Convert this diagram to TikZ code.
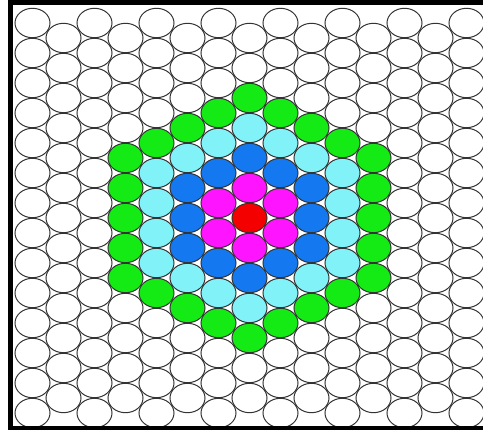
\documentclass[tikz,border=0pt]{standalone}
\definecolor{ringred}{RGB}{245,0,0}
\definecolor{ringmagenta}{RGB}{255,20,255}
\definecolor{ringblue}{RGB}{20,120,240}
\definecolor{ringcyan}{RGB}{128,242,248}
\definecolor{ringgreen}{RGB}{20,235,20}
\tikzset{
	cell/.style={draw=black!80, line width=1pt},
	ring0/.style={fill=ringred},
	ring1/.style={fill=ringmagenta},
	ring2/.style={fill=ringblue},
	ring3/.style={fill=ringcyan},
	ring4/.style={fill=ringgreen},
	ring5/.style={fill=white}
}
\begin{document}
\begin{tikzpicture}[x=1pt, y=-1pt]
		\useasboundingbox (0,0) rectangle (483,430);
		\clip (0,0) rectangle (483,430);
		
		% Hexagonal lattice of cells, coloured by ring around the centre
		\foreach \c in {-7,...,7} {
			\foreach \h in {-13,...,13} {
				\pgfmathtruncatemacro\odd{mod(abs(\c+\h),2)}
				\ifnum\odd=0
					\pgfmathtruncatemacro\dist{abs(\c)+max(0,(abs(\h)-abs(\c))/2)}
					\pgfmathtruncatemacro\ring{min(\dist,5)}
					\draw[cell, ring\ring] (249.5+31*\c, 218+15*\h) ellipse [x radius=17.5pt, y radius=14.7pt];
				\fi
			}
		}
		
		% Frame
		\draw[line width=4.5pt] (490,2.5) -- (10.5,2.5) -- (10.5,428) -- (490,428);
	\end{tikzpicture}
\end{document}
